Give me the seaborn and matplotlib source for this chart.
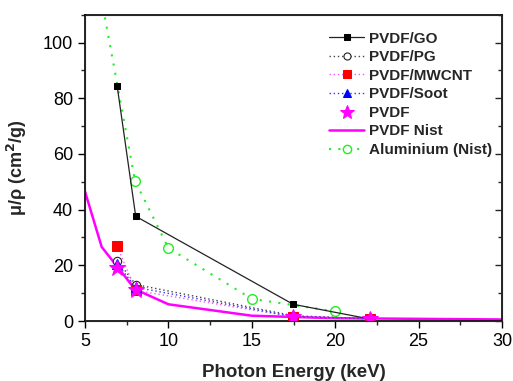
import numpy as np
import pandas as pd
import matplotlib
matplotlib.use("Agg")
import matplotlib.pyplot as plt
import seaborn as sns
from matplotlib.ticker import MultipleLocator

sns.set_style("ticks")
plt.rcParams['font.family'] = ['Liberation Sans', 'DejaVu Sans']

# ---- data ----
energy_exp = [6.93, 8.04, 17.48, 22.1]
go = [84.3, 37.6, 6.0, 0.7]
pg = [21.7, 13.1, 1.9, 0.8]
mwcnt = [26.8, 11.0, 1.5, 0.8]
soot = [20.6, 12.1, 1.6, 0.8]
pvdf = [19.0, 11.0, 1.3, 0.8]

energy_nist = [5, 6, 8, 10, 15, 20, 30]
pvdf_nist = [46.5, 26.6, 11.4, 6.0, 1.9, 1.0, 0.55]

energy_al = [5, 6, 8, 10, 15, 20]
al_nist = [193.4, 115.3, 50.3, 26.2, 7.96, 3.44]

fig = plt.figure(figsize=(5.13, 3.81), dpi=100)
ax = fig.add_axes([85/513, 1-321/381, 417/513, (321-14.7)/381])

kw = dict(sort=False, estimator=None, ax=ax)
sns.lineplot(x=energy_exp, y=go, color='#222222', lw=0.9, marker='s', markersize=5,
             markeredgecolor='black', markerfacecolor='black', label='PVDF/GO', zorder=3, **kw)
sns.lineplot(x=energy_exp, y=pg, color='#444444', lw=1.0, linestyle=(0, (1, 2)), marker='o',
             markersize=6, markerfacecolor='white', markeredgecolor='#222222', markeredgewidth=0.8,
             label='PVDF/PG', zorder=3, **kw)
sns.lineplot(x=energy_exp, y=mwcnt, color='#ff55ff', lw=1.0, linestyle=(0, (1, 2)), marker='s',
             markersize=7, markerfacecolor='red', markeredgecolor='red',
             label='PVDF/MWCNT', zorder=3, **kw)
sns.lineplot(x=energy_exp, y=soot, color='#3333ff', lw=1.0, linestyle=(0, (1, 2)), marker='^',
             markersize=7, markerfacecolor='blue', markeredgecolor='blue',
             label='PVDF/Soot', zorder=4, **kw)
sns.lineplot(x=energy_exp, y=pvdf, color='magenta', lw=0, marker='*', markersize=12,
             markerfacecolor='magenta', markeredgecolor='magenta',
             label='PVDF', zorder=5, **kw)
sns.lineplot(x=energy_nist, y=pvdf_nist, color='#ff00ff', lw=1.8, label='PVDF Nist', zorder=2, **kw)
sns.lineplot(x=energy_al, y=al_nist, color='#22ee22', lw=1.5, linestyle=(0, (1, 3.5)), marker='o',
             markersize=7, markerfacecolor='white', markeredgecolor='#22ee22', markeredgewidth=1.0,
             label='Aluminium (Nist)', zorder=2, **kw)

ax.set_xlim(5, 30)
ax.set_ylim(0, 110)
ax.xaxis.set_major_locator(MultipleLocator(5))
ax.xaxis.set_minor_locator(MultipleLocator(2.5))
ax.yaxis.set_major_locator(MultipleLocator(20))
ax.yaxis.set_minor_locator(MultipleLocator(10))
ax.tick_params(axis='both', which='major', direction='out', length=5, width=1, labelsize=13, colors='black')
ax.tick_params(axis='both', which='minor', direction='out', length=3, width=1)
for s in ax.spines.values():
    s.set_linewidth(1.2)
    s.set_color('black')

# right side inward ticks
ax2 = ax.twinx()
ax2.set_ylim(0, 110)
ax2.yaxis.set_major_locator(MultipleLocator(20))
ax2.yaxis.set_minor_locator(MultipleLocator(10))
ax2.tick_params(axis='y', which='major', direction='in', length=5, width=1, labelright=False)
ax2.tick_params(axis='y', which='minor', direction='in', length=3, width=1)
ax2.grid(False)

ax.set_xlabel('Photon Energy (keV)', fontsize=13.5, fontweight='bold', labelpad=10)
ax.set_ylabel('μ/ρ (cm$^\\mathbf{2}$/g)', fontsize=13, fontweight='bold', labelpad=10)

leg = ax.legend(loc='upper left', bbox_to_anchor=(0.585, 0.945), frameon=False,
                prop={'weight': 'bold', 'size': 11}, handlelength=2.3, handletextpad=0.3,
                labelspacing=0.3, borderpad=0, borderaxespad=0, markerscale=0.85)

fig.savefig('out.png', dpi=100)
